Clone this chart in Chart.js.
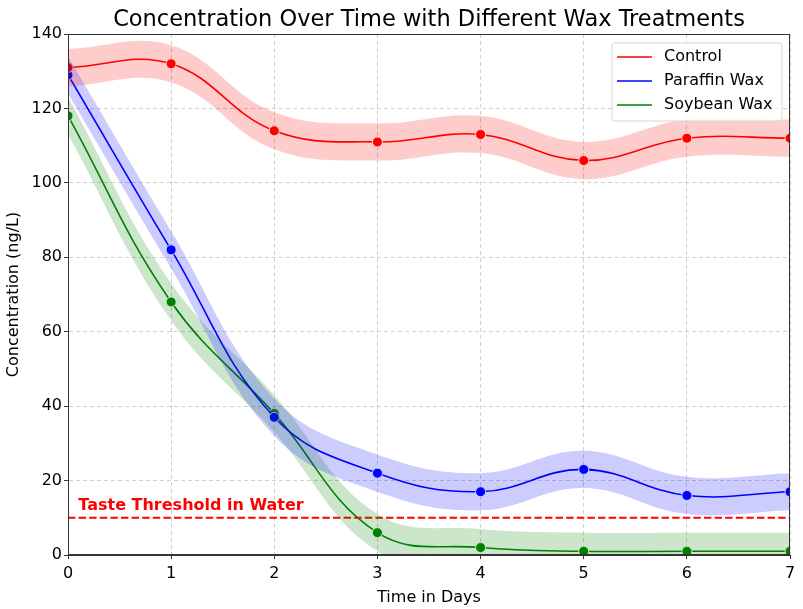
<!DOCTYPE html>
<html>
<head>
<meta charset="utf-8">
<script src="https://cdn.jsdelivr.net/npm/chart.js@4/dist/chart.umd.min.js"></script>
<style>
  html, body { margin: 0; padding: 0; background: #fff; }
  #wrap { width: 803px; height: 609px; }
</style>
</head>
<body>
<div id="wrap"><canvas id="myChart"></canvas></div>
<script>
const days = [0, 1, 2, 3, 4, 5, 6, 7]

const control = [131, 132, 114, 111, 113, 106, 112, 112]
const controlUpper = [136, 137, 119, 116, 118, 111, 117, 117]
const controlLower = [126, 127, 109, 106, 108, 101, 107, 107]

const paraffin = [129, 82, 37, 22, 17, 23, 16, 17]
const paraffinUpper = [134, 87, 42, 27, 22, 28, 21, 22]
const paraffinLower = [124, 77, 32, 17, 12, 18, 11, 12]

const soybean = [118, 68, 38, 6, 2, 1, 1, 1]
const soybeanUpper = [123, 73, 43, 11, 7, 6, 6, 6]
const soybeanLower = [113, 63, 33, 1, -3, -4, -4, -4]

const threshold = 10
const thresholdLabel = 'Taste Threshold in Water'

const pts = arr => arr.map((v, i) => ({ x: days[i], y: v }))
const font = "'DejaVu Sans', Verdana, sans-serif"

function band(upper, lower, color) {
  return [
    { data: pts(upper), borderWidth: 0, pointRadius: 0, fill: false, tension: 0.4, showLine: true },
    { data: pts(lower), borderWidth: 0, pointRadius: 0, fill: '-1', backgroundColor: color, tension: 0.4, showLine: true }
  ]
}

function series(label, values, color) {
  return {
    label, data: pts(values), borderColor: color, backgroundColor: color,
    borderWidth: 1.6, tension: 0.4, showLine: true, fill: false,
    pointRadius: 5, pointBorderColor: '#fff', pointBorderWidth: 1,
    pointBackgroundColor: color
  }
}

const lines = [
  series('Control', control, '#ff0000'),
  series('Paraffin Wax', paraffin, '#0000ff'),
  series('Soybean Wax', soybean, '#008000')
]

const datasets = [
  ...band(controlUpper, controlLower, 'rgba(255,0,0,0.2)'),
  ...band(paraffinUpper, paraffinLower, 'rgba(0,0,255,0.2)'),
  ...band(soybeanUpper, soybeanLower, 'rgba(0,128,0,0.2)'),
  {
    data: [{ x: days[0], y: threshold }, { x: days[days.length - 1], y: threshold }],
    borderColor: '#ff0000', borderWidth: 2, borderDash: [7.4, 3.2], pointRadius: 0,
    showLine: true, fill: false
  },
  ...lines
]

const overlay = {
  id: 'overlay',
  afterDatasetsDraw(chart) {
    const c = chart.ctx, a = chart.chartArea
    const xs = chart.scales.x, ys = chart.scales.y
    c.save()
    // threshold text
    c.fillStyle = '#ff0000'
    c.font = 'bold 16px ' + font
    c.textBaseline = 'alphabetic'
    c.fillText(thresholdLabel, xs.getPixelForValue(0.1), ys.getPixelForValue(12))
    // frame
    c.strokeStyle = '#333'
    c.lineWidth = 1
    c.strokeRect(a.left + 0.5, a.top + 0.5, a.right - a.left - 1, a.bottom - a.top - 1)
    // legend
    const bx = a.right - 178, by = a.top + 9, bw = 170, bh = 78
    c.fillStyle = 'rgba(255,255,255,0.8)'
    c.strokeStyle = '#d6d6d6'
    c.beginPath()
    c.roundRect(bx, by, bw, bh, 3)
    c.fill(); c.stroke()
    c.font = '16px ' + font
    c.textBaseline = 'middle'
    lines.forEach((d, i) => {
      const y = by + 14 + i * 24
      c.strokeStyle = d.borderColor
      c.lineWidth = 1.6
      c.beginPath(); c.moveTo(bx + 5, y); c.lineTo(bx + 40, y); c.stroke()
      c.fillStyle = '#000'
      c.fillText(d.label, bx + 52, y)
    })
    c.restore()
  }
}

const ctx = document.getElementById('myChart')

const config = {
  type: 'scatter',
  data: { datasets },
  options: {
    responsive: true,
    maintainAspectRatio: false,
    animation: false,
    layout: { padding: { left: 0, right: 13, top: 0, bottom: 0 } },
    plugins: {
      legend: { display: false },
      tooltip: { enabled: false },
      title: {
        display: true, fullSize: false,
        text: 'Concentration Over Time with Different Wax Treatments',
        color: '#000', font: { family: font, size: 22.5, weight: 'normal' },
        padding: { top: 7, bottom: 0 }
      }
    },
    scales: {
      x: {
        type: 'linear', min: 0, max: 7,
        afterFit(s) { s.height = 54 },
        ticks: { stepSize: 1, color: '#000', font: { family: font, size: 16 }, padding: 5 },
        grid: { color: 'rgba(176,176,176,0.6)', tickColor: '#333', tickLength: 4, tickBorderDash: [] },
        border: { display: true, color: '#333', dash: [4, 3] },
        title: { display: true, text: 'Time in Days', color: '#000', font: { family: font, size: 16 }, padding: { top: 0, bottom: 2 } }
      },
      y: {
        min: 0, max: 140,
        afterFit(s) { s.width = 68 },
        ticks: { stepSize: 20, color: '#000', font: { family: font, size: 16 }, padding: 2 },
        grid: { color: 'rgba(176,176,176,0.6)', tickColor: '#333', tickLength: 4, tickBorderDash: [] },
        border: { display: true, color: '#333', dash: [4, 3] },
        title: { display: true, text: 'Concentration (ng/L)', color: '#000', font: { family: font, size: 16 }, padding: { bottom: 2 } }
      }
    }
  },
  plugins: [overlay]
}

const myChart = new Chart(ctx, config)
</script>
</body>
</html>
